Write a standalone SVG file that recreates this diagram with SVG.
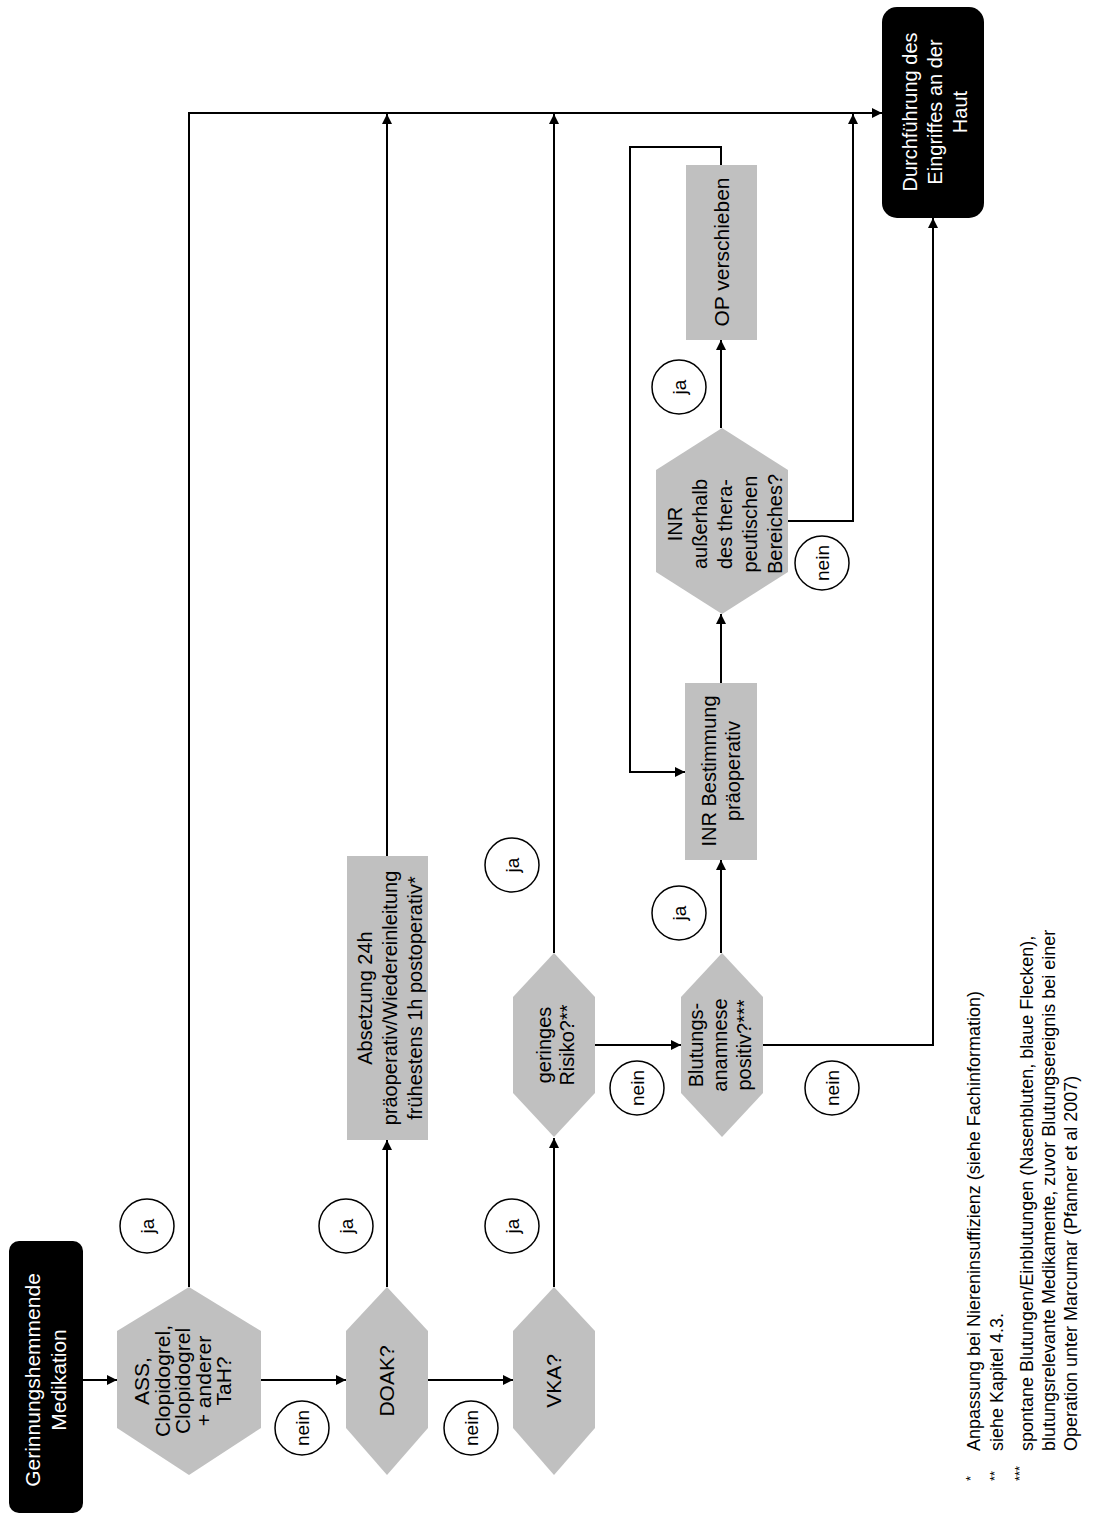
<svg xmlns="http://www.w3.org/2000/svg" width="1094" height="1515" viewBox="0 0 1094 1515">
<defs>
<style>
.g{fill:#c0c0c0}
.b{fill:#000}
.t{font-family:"Liberation Sans",Arial,sans-serif;font-size:20px;fill:#000;text-anchor:middle}
.w{fill:#fff}
.c{fill:#fff;stroke:#000;stroke-width:1.5}
.l{fill:none;stroke:#000;stroke-width:2;marker-end:url(#a)}
.fn{font-family:"Liberation Sans",Arial,sans-serif;font-size:18px;fill:#000;text-anchor:start}
.st{font-family:"Liberation Sans",Arial,sans-serif;font-size:13px;fill:#000;text-anchor:start}
</style>
<marker id="a" viewBox="0 0 10 10" refX="10" refY="5" markerWidth="11" markerHeight="10" markerUnits="userSpaceOnUse" orient="auto"><path d="M0,0 L10,5 L0,10 z" fill="#000"/></marker>
</defs>
<rect width="1094" height="1515" fill="#fff"/>

<g id="connectors">
<path class="l" d="M83 1380 H117"/>
<path class="l" d="M261 1380 H346"/>
<path class="l" d="M428 1380 H513"/>
<path class="l" d="M189 1287 V113 H882"/>
<path class="l" d="M387 1287 V1140"/>
<path class="l" d="M387 856 V114"/>
<path class="l" d="M554 1287 V1138"/>
<path class="l" d="M554 953 V114"/>
<path class="l" d="M595 1045 H681"/>
<path class="l" d="M721 953 V860"/>
<path class="l" d="M721 683 V614"/>
<path class="l" d="M721 428 V340"/>
<path class="l" d="M721 165 V147 H630 V772 H685"/>
<path class="l" d="M788 521 H853 V114"/>
<path class="l" d="M763 1045 H933 V218"/>
</g>

<g id="start">
<rect class="b" x="9" y="1241" width="74" height="272" rx="10"/>
<text class="t w" style="font-size:21px" transform="translate(46,1380) rotate(-90)"><tspan x="0" dy="-5.65">Gerinnungshemmende</tspan><tspan x="0" dy="26">Medikation</tspan></text>
</g>

<g id="ass">
<polygon class="g" points="189,1287 261,1331 261,1428 189,1475 117,1428 117,1331"/>
<text class="t" style="font-size:21px" transform="translate(183,1381) rotate(-90)"><tspan x="0" dy="-33.65">ASS,</tspan><tspan x="0" dy="20.5">Clopidogrel,</tspan><tspan x="0" dy="20.5">Clopidogrel</tspan><tspan x="0" dy="20.5">+ anderer</tspan><tspan x="0" dy="20.5">TaH?</tspan></text>
</g>

<g id="doak">
<polygon class="g" points="387,1287 428,1331 428,1428 387,1475 346,1428 346,1331"/>
<text class="t" style="font-size:21px" transform="translate(387,1381) rotate(-90)"><tspan x="0" dy="7">DOAK?</tspan></text>
</g>

<g id="vka">
<polygon class="g" points="554,1287 595,1331 595,1428 554,1475 513,1428 513,1331"/>
<text class="t" style="font-size:21px" transform="translate(554,1381) rotate(-90)"><tspan x="0" dy="7">VKA?</tspan></text>
</g>

<g id="absetzung">
<rect class="g" x="347" y="856" width="81" height="284"/>
<text class="t" transform="translate(390,998) rotate(-90)"><tspan x="0" dy="-18">Absetzung 24h</tspan><tspan x="0" dy="25">präoperativ/Wiedereinleitung</tspan><tspan x="0" dy="25">frühestens 1h postoperativ*</tspan></text>
</g>

<g id="geringes">
<polygon class="g" points="554,953 595,997 595,1093 554,1137 513,1093 513,997"/>
<text class="t" transform="translate(555,1045) rotate(-90)"><tspan x="0" dy="-4.5">geringes</tspan><tspan x="0" dy="23">Risiko?**</tspan></text>
</g>

<g id="blutung">
<polygon class="g" points="722,953 763,997 763,1093 722,1137 681,1093 681,997"/>
<text class="t" transform="translate(720,1045) rotate(-90)"><tspan x="0" dy="-17">Blutungs-</tspan><tspan x="0" dy="24">anamnese</tspan><tspan x="0" dy="24">positiv?***</tspan></text>
</g>

<g id="inr-bestimmung">
<rect class="g" x="685" y="683" width="72" height="177"/>
<text class="t" transform="translate(721,771) rotate(-90)"><tspan x="0" dy="-5">INR Bestimmung</tspan><tspan x="0" dy="24">präoperativ</tspan></text>
</g>

<g id="inr-bereich">
<polygon class="g" points="722,428 788,470 788,572 722,614 656,572 656,470"/>
<text class="t" transform="translate(725,524) rotate(-90)"><tspan x="0" dy="-43">INR</tspan><tspan x="0" dy="25">außerhalb</tspan><tspan x="0" dy="25">des thera-</tspan><tspan x="0" dy="25">peutischen</tspan><tspan x="0" dy="25">Bereiches?</tspan></text>
</g>

<g id="op-verschieben">
<rect class="g" x="686" y="165" width="71" height="175"/>
<text class="t" style="font-size:21px" transform="translate(722,252) rotate(-90)"><tspan x="0" dy="7">OP verschieben</tspan></text>
</g>

<g id="durchfuehrung">
<rect class="b" x="882" y="7" width="102" height="211" rx="15"/>
<text class="t w" transform="translate(935,112) rotate(-90)"><tspan x="0" dy="-18">Durchführung des</tspan><tspan x="0" dy="25">Eingriffes an der</tspan><tspan x="0" dy="25">Haut</tspan></text>
</g>

<g id="labels">
<circle class="c" cx="147" cy="1226" r="27"/><text class="t" style="font-size:19px" transform="translate(147,1226) rotate(-90)" dy="6.5">ja</text>
<circle class="c" cx="346" cy="1226" r="27"/><text class="t" style="font-size:19px" transform="translate(346,1226) rotate(-90)" dy="6.5">ja</text>
<circle class="c" cx="512" cy="1226" r="27"/><text class="t" style="font-size:19px" transform="translate(512,1226) rotate(-90)" dy="6.5">ja</text>
<circle class="c" cx="512" cy="865" r="27"/><text class="t" style="font-size:19px" transform="translate(512,865) rotate(-90)" dy="6.5">ja</text>
<circle class="c" cx="679" cy="913" r="27"/><text class="t" style="font-size:19px" transform="translate(679,913) rotate(-90)" dy="6.5">ja</text>
<circle class="c" cx="679" cy="387" r="27"/><text class="t" style="font-size:19px" transform="translate(679,387) rotate(-90)" dy="6.5">ja</text>
<circle class="c" cx="302" cy="1428" r="27"/><text class="t" style="font-size:19px" transform="translate(302,1428) rotate(-90)" dy="6.5">nein</text>
<circle class="c" cx="471" cy="1428" r="27"/><text class="t" style="font-size:19px" transform="translate(471,1428) rotate(-90)" dy="6.5">nein</text>
<circle class="c" cx="637" cy="1088" r="27"/><text class="t" style="font-size:19px" transform="translate(637,1088) rotate(-90)" dy="6.5">nein</text>
<circle class="c" cx="832" cy="1088" r="27"/><text class="t" style="font-size:19px" transform="translate(832,1088) rotate(-90)" dy="6.5">nein</text>
<circle class="c" cx="822" cy="563" r="27"/><text class="t" style="font-size:19px" transform="translate(822,563) rotate(-90)" dy="6.5">nein</text>
</g>

<g id="footnotes">
<text class="st" transform="translate(975,1481) rotate(-90)">*</text>
<text class="fn" transform="translate(980,1451) rotate(-90)">Anpassung bei Niereninsuffizienz (siehe Fachinformation)</text>
<text class="st" transform="translate(999,1481) rotate(-90)">**</text>
<text class="fn" transform="translate(1003,1451) rotate(-90)">siehe Kapitel 4.3.</text>
<text class="st" transform="translate(1024,1481) rotate(-90)">***</text>
<text class="fn" transform="translate(1033,1451) rotate(-90)">spontane Blutungen/Einblutungen (Nasenbluten, blaue Flecken),</text>
<text class="fn" transform="translate(1055,1451) rotate(-90)">blutungsrelevante Medikamente, zuvor Blutungsereignis bei einer</text>
<text class="fn" transform="translate(1077,1451) rotate(-90)">Operation unter Marcumar (Pfanner et al 2007)</text>
</g>
</svg>
